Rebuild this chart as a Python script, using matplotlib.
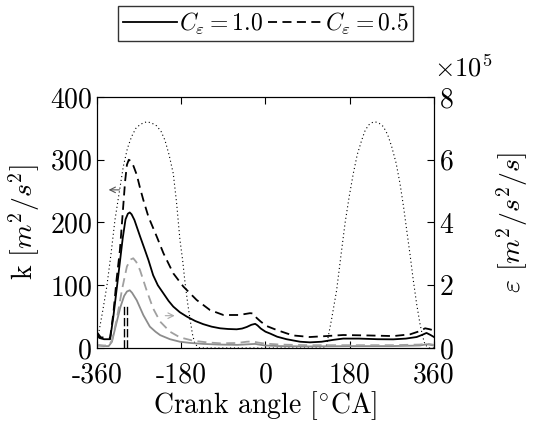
import matplotlib
matplotlib.use("Agg")
import matplotlib.pyplot as plt
import numpy as np

plt.rcParams['font.family'] = 'cmr10'
plt.rcParams['mathtext.fontset'] = 'cm'
plt.rcParams['axes.formatter.use_mathtext'] = True

# turbulent kinetic energy k, C_eps = 1.0 (solid black)
ca_k1 = [-360, -355, -345, -332, -325, -315, -305, -299, -294, -290, -286, -280, -268,
         -257.5, -250, -240, -230, -218, -207, -197, -183, -168, -150, -133, -115, -97,
         -80, -61.5, -50, -40, -30, -22, -17, -10, 0, 10, 25, 45, 74, 95, 120, 145, 166,
         200, 240, 273, 300, 323, 335, 344, 352, 360]
k1 = [22, 16, 14, 14, 50, 112, 175, 205, 214, 216, 213, 204, 178,
      156, 140, 116, 100, 87, 75, 66, 57, 50, 43, 38, 34, 31.4,
      30.3, 29.8, 31, 33.5, 37, 38.5, 36, 31, 26, 23, 18, 14, 10, 9, 10, 13, 15,
      15, 14, 13.8, 15, 17.5, 21, 24, 21, 17.5]

# k, C_eps = 0.5 (dashed black)
ca_k2 = [-360, -352, -332, -325, -318, -311, -305, -300, -296, -292, -288, -282, -275,
         -268, -261, -250, -232, -218, -197, -175.6, -147, -118.6, -90, -58, -45, -33,
         -26, -19, -10, 2.5, 24, 45, 59, 74, 95, 130, 166, 220, 273, 309, 330, 341, 350, 360]
k2 = [25, 17, 16, 55, 110, 156, 215, 265, 292, 300, 298, 290, 276,
      255, 236, 209, 177, 151, 119, 98, 76.5, 60.5, 52.6, 52.6, 54, 55.5,
      55, 48, 42, 35, 28.7, 23.4, 20, 19, 17.5, 19, 20.7, 20, 19, 21.8, 27, 31.4, 30, 28]

# dissipation rate epsilon, C_eps = 1.0 (solid grey)
ca_e1 = [-360, -345, -335, -328, -320, -310, -302, -296, -290, -285, -275, -261, -247,
         -235, -225, -204, -183, -160, -133, -100, -60, -35, -22, -10, 0, 30, 90, 180,
         270, 330, 345, 360]
e1 = [8e3, 6e3, 6e3, 2.0e4, 7.0e4, 1.30e5, 1.66e5, 1.80e5, 1.84e5, 1.76e5, 1.52e5,
      1.05e5, 6.8e4, 5.2e4, 4.1e4, 2.8e4, 2.0e4, 1.6e4, 1.3e4, 1.1e4, 1.0e4, 1.2e4,
      1.3e4, 1.0e4, 8e3, 6e3, 5e3, 6e3, 6e3, 8e3, 1.2e4, 8e3]

# epsilon, C_eps = 0.5 (dashed grey)
ca_e2 = [-360, -345, -335, -328, -318, -306, -296, -288, -282.5, -276, -268, -254, -240,
         -225, -204, -183, -154, -125, -97, -60, -40, -28, -15, 0, 30, 90, 180, 270, 330,
         345, 360]
e2 = [1.0e4, 8e3, 8e3, 2.4e4, 9.0e4, 1.90e5, 2.60e5, 2.82e5, 2.86e5, 2.74e5, 2.48e5,
      1.84e5, 1.26e5, 8.4e4, 5.2e4, 3.4e4, 2.3e4, 1.8e4, 1.5e4, 1.6e4, 2.0e4, 2.1e4,
      1.7e4, 1.4e4, 1.1e4, 9e3, 9e3, 9e3, 1.1e4, 1.4e4, 1.0e4]

# valve lift profiles (dotted, drawn on k scale)
ca_v = [-357, -348, -339, -330, -321.6, -312, -303.8, -295, -286, -277, -268, -260, -252.5,
        -242, -232.5, -223, -214.7, -206, -197, -190, -182.7, -177, -172, -166, -161, -156,
        -150.6, -140, 0, 125, 130.7, 141, 152, 161, 170, 179, 187.6, 196, 205.5, 212, 219.7,
        227, 234, 243, 251.7, 261, 269.6, 279, 287.4, 295, 301.7, 309, 315.8, 323, 330, 336,
        341, 350, 360]
lift = [21, 58, 98, 150, 204, 250, 289, 318, 337, 350, 356, 359, 360.6,
        358, 354, 345, 331, 308, 278, 232, 172, 140, 105, 70, 45, 22,
        6, 0, 0, 0, 5, 45, 92, 146, 199, 242, 278, 308, 331, 345, 355,
        359, 360.6, 358, 353, 340, 321, 295, 262, 225, 188, 148, 108, 70, 39, 18,
        5, 0, 0]

# marker lines near the k peak
ca_mark = [-302, -295.5]
k_mark = 70

xticks = [-360, -180, 0, 180, 360]
xticklabels = ['-360', '-180', '0', '180', '360']

fig = plt.figure(figsize=(5.34, 4.23), dpi=100)
ax = fig.add_axes([0.1816, 0.1773, 0.6311, 0.5934])
ax2 = ax.twinx()

ax.plot(ca_v, lift, color='black', ls=(0, (1, 2.5)), lw=0.8)
ax.plot(ca_k1, k1, color='black', lw=1.3, label=r'$C_\varepsilon = 1.0$')
ax.plot(ca_k2, k2, color='black', lw=1.3, ls=(0, (5, 3)), label=r'$C_\varepsilon = 0.5$')
ax.vlines(ca_mark, 0, k_mark, colors='black', linestyles=(0, (6, 2)), lw=1.0)
ax2.plot(ca_e1, e1, color='#8c8c8c', lw=1.3)
ax2.plot(ca_e2, e2, color='#a0a0a0', lw=1.3, ls=(0, (5, 3)))

ax.annotate('', xy=(-341, 252), xytext=(-306, 252),
            arrowprops=dict(arrowstyle='->', color='#555555', lw=0.8))
ax2.annotate('', xy=(-188, 1.03e5), xytext=(-220, 1.03e5),
             arrowprops=dict(arrowstyle='->', color='#aaaaaa', lw=0.8))

ax.set_xlim(-360, 360)
ax.set_ylim(0, 400)
ax2.set_ylim(0, 8e5)
ax.set_xticks(xticks)
ax.set_xticklabels(xticklabels)
ax.set_yticks([0, 100, 200, 300, 400])
ax2.set_yticks([0, 2e5, 4e5, 6e5, 8e5])
ax2.ticklabel_format(axis='y', style='sci', scilimits=(0, 0))
ax2.yaxis.get_offset_text().set_visible(False)
ax2.text(1.0, 1.06, r'$\times10^5$', transform=ax2.transAxes, ha='left', va='bottom',
         fontsize=19)

ax.tick_params(direction='in', top=True, labelsize=20, length=5)
ax.tick_params(axis='x', pad=10)
ax2.tick_params(direction='in', labelsize=20, length=5)

ax.set_xlabel(r'Crank angle [$^{\circ}$CA]', fontsize=20, labelpad=1)
ax.set_ylabel(r'k $[m^2/s^2]$', fontsize=20)
ax2.set_ylabel(r'$\varepsilon$ $[m^2/s^2/s]$', fontsize=20)
ax.yaxis.set_label_coords(-0.163, 0.5)
ax2.yaxis.set_label_coords(1.18, 0.5)

leg = fig.legend(loc='center', bbox_to_anchor=(0.497, 0.944), ncol=2, fontsize=17,
                 frameon=True, fancybox=False, edgecolor='black', handlelength=2.3,
                 handletextpad=0.1, columnspacing=0.2, borderpad=0.2)
leg.get_frame().set_linewidth(1.0)

fig.savefig('out.png', dpi=100)
